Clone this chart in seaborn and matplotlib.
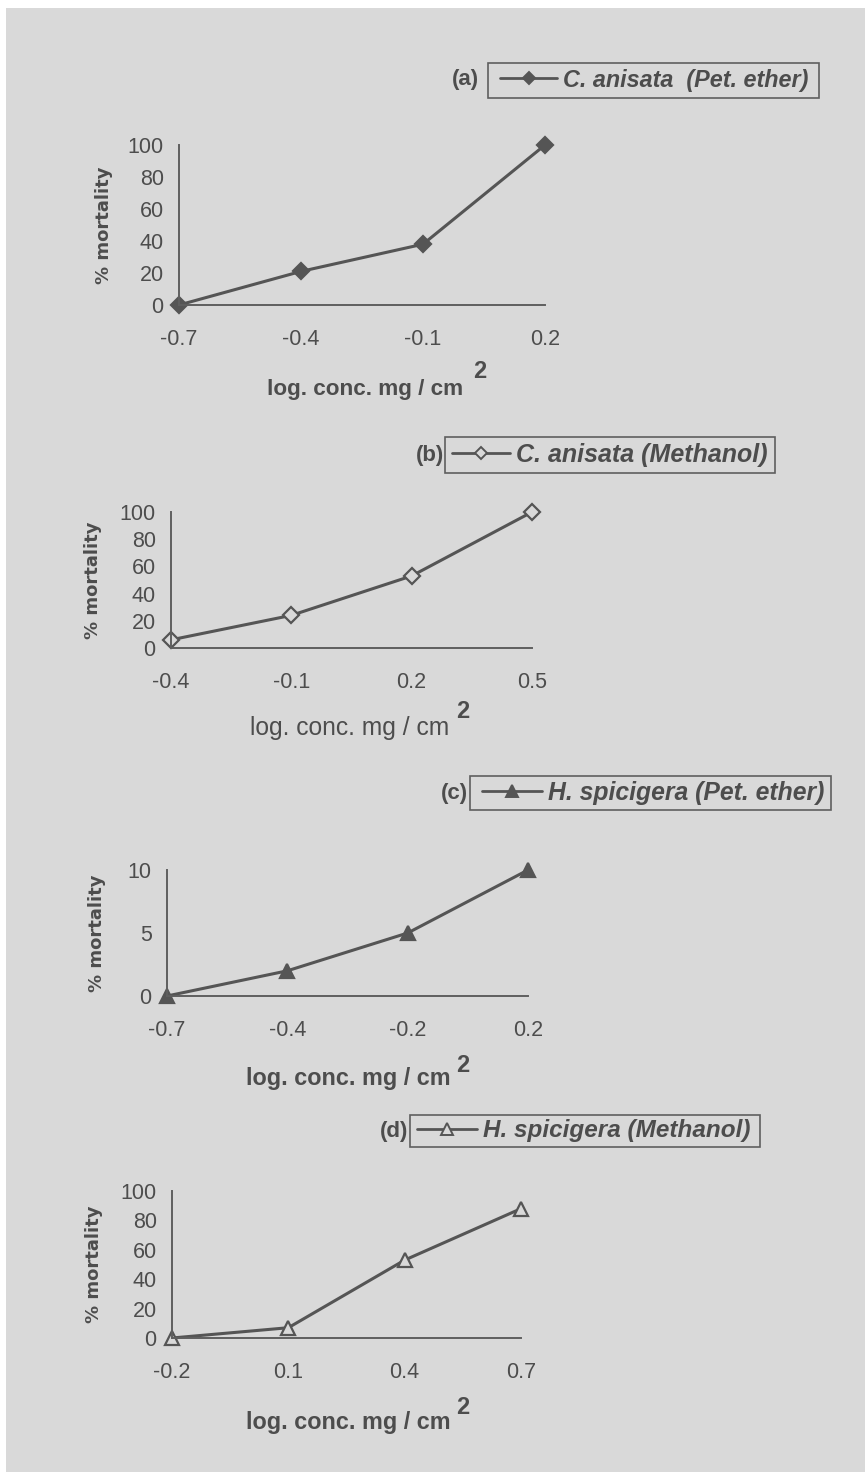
import matplotlib
matplotlib.use("Agg")
import matplotlib.pyplot as plt
from matplotlib import font_manager as fm
import seaborn as sns
import pandas as pd
from matplotlib.patches import Rectangle
from matplotlib.lines import Line2D

sns.set_theme(style="white")


def has_font(name):
    try:
        fm.findfont(fm.FontProperties(family=name), fallback_to_default=False)
        return True
    except Exception:
        return False


NARROW = "Liberation Sans Narrow" if has_font("Liberation Sans Narrow") else "Liberation Sans"
plt.rcParams['font.family'] = [NARROW, 'DejaVu Sans']

# ---- data ----
panel_tags = ["(a)", "(b)", "(c)", "(d)"]
series_names = ["C. anisata  (Pet. ether)", "C. anisata (Methanol)",
                "H. spicigera (Pet. ether)", "H. spicigera (Methanol)"]
x_labels_a = ["-0.7", "-0.4", "-0.1", "0.2"]
x_labels_b = ["-0.4", "-0.1", "0.2", "0.5"]
x_labels_c = ["-0.7", "-0.4", "-0.2", "0.2"]
x_labels_d = ["-0.2", "0.1", "0.4", "0.7"]
mort_a = [0, 21, 38, 100]
mort_b = [6, 24, 53, 100]
mort_c = [0, 2, 5, 10]
mort_d = [0, 7, 53, 88]
yticks_a = [0, 20, 40, 60, 80, 100]
yticks_b = [0, 20, 40, 60, 80, 100]
yticks_c = [0, 5, 10]
yticks_d = [0, 20, 40, 60, 80, 100]
y_title = "% mortality"
x_title = "log. conc. mg / cm"
x_title_sup = "2"

W, H = 865, 1472
fig = plt.figure(figsize=(W / 100, H / 100), dpi=100)
fig.patch.set_facecolor("white")
fig.add_artist(Rectangle((6 / W, 0), 1, 1 - 8 / H, transform=fig.transFigure,
                         facecolor="#d9d9d9", edgecolor="none", zorder=-10))
renderer = fig.canvas.get_renderer()

TXT = "#4d4d4d"
LINE = "#555555"


def fx(px):
    return px / W


def fy(py):
    return 1 - py / H


def fit_width(txt, target):
    w = txt.get_window_extent(renderer).width
    txt.set_fontsize(txt.get_fontsize() * target / w)


# pixel layout per panel
layouts = [
    dict(l=179, r=545, t=145, b=305, ylx=104,
         xl=(365, 389, 196), sup=(473, 372),
         box=(488, 819, 80, 35), hnd=(500, 557), txt_w=245, tag_r=479, bold=True),
    dict(l=171, r=532, t=512, b=648, ylx=93,
         xl=(350, 728, 200), sup=(456, 712),
         box=(445, 775, 455, 36), hnd=(452, 510), txt_w=252, tag_r=444, bold=False),
    dict(l=167, r=528, t=870, b=996, ylx=97,
         xl=(348, 1078, 204), sup=(456, 1066),
         box=(470, 831, 793, 34), hnd=(482, 542), txt_w=276, tag_r=468, bold=True),
    dict(l=172, r=521, t=1191, b=1338, ylx=94,
         xl=(348, 1423, 204), sup=(456, 1407),
         box=(410, 760, 1131, 32), hnd=(417, 477), txt_w=267, tag_r=408, bold=True),
]
xlabels_all = [x_labels_a, x_labels_b, x_labels_c, x_labels_d]
mort_all = [mort_a, mort_b, mort_c, mort_d]
yticks_all = [yticks_a, yticks_b, yticks_c, yticks_d]
markers = ["D", "D", "^", "^"]
mfaces = [LINE, "#d9d9d9", LINE, "#d9d9d9"]
msizes = [8, 8, 10, 10]

for i, L in enumerate(layouts):
    ax = fig.add_axes([fx(L["l"]), fy(L["b"]), (L["r"] - L["l"]) / W, (L["b"] - L["t"]) / H])
    ax.set_facecolor("none")
    df = pd.DataFrame({"pos": range(len(xlabels_all[i])), "y": mort_all[i]})
    sns.lineplot(data=df, x="pos", y="y", ax=ax, color=LINE, lw=2.2,
                 marker=markers[i], markersize=msizes[i], markerfacecolor=mfaces[i],
                 markeredgecolor=LINE, markeredgewidth=1.6, clip_on=False)
    ax.set_xlim(0, len(xlabels_all[i]) - 1)
    yt = yticks_all[i]
    ax.set_ylim(yt[0], yt[-1])
    ax.set_xticks(range(len(xlabels_all[i])))
    ax.set_xticklabels(xlabels_all[i])
    ax.set_yticks(yt)
    for s in ["top", "right"]:
        ax.spines[s].set_visible(False)
    for s in ["left", "bottom"]:
        ax.spines[s].set_color("#5f5f5f")
        ax.spines[s].set_linewidth(1.4)
    ax.tick_params(axis="x", direction="out", length=5, width=1, color="#7a7a7a",
                   pad=12, labelsize=15.5, labelcolor=TXT)
    ax.tick_params(axis="y", direction="out", length=5, width=1, color="#7a7a7a",
                   pad=6, labelsize=15.5, labelcolor=TXT)
    ax.set_xlabel("")
    ax.set_ylabel("")

    # y title
    fig.text(fx(L["ylx"]), fy((L["t"] + L["b"]) / 2), y_title, rotation=90,
             ha="center", va="center", fontsize=13, color=TXT, fontweight="bold",
             family=["DejaVu Sans"])
    # x title with superscript
    xcx, xcy, xw = L["xl"]
    t = fig.text(fx(xcx), fy(xcy), x_title, ha="center", va="center",
                 fontsize=16, color=TXT, fontweight="bold" if L["bold"] else "normal")
    fit_width(t, xw)
    sx, sy = L["sup"]
    fig.text(fx(sx), fy(sy), x_title_sup, ha="left", va="center",
             fontsize=17, color=TXT, fontweight="bold")

    # legend: frame box + legend entry
    bl, br, bcy, bh = L["box"]
    fig.add_artist(Rectangle((fx(bl), fy(bcy + bh / 2)), (br - bl) / W, bh / H,
                             transform=fig.transFigure, facecolor="none",
                             edgecolor="#5f5f5f", lw=1.2))
    fam = [NARROW if i != 1 else "Liberation Sans", "DejaVu Sans"]
    tmp = fig.text(0, 0, series_names[i], fontsize=16, fontweight="bold", style="italic",
                   family=fam)
    fit_width(tmp, L["txt_w"])
    fs = tmp.get_fontsize()
    tmp.remove()
    fs_px = fs * 100 / 72
    h0, h1 = L["hnd"]
    h = Line2D([], [], color=LINE, lw=2, marker=markers[i], markersize=msizes[i] - 2,
               markerfacecolor=mfaces[i], markeredgecolor=LINE, markeredgewidth=1.4)
    leg = ax.legend([h], [series_names[i]], loc="center left",
                    bbox_to_anchor=(fx(h0), fy(bcy)), bbox_transform=fig.transFigure,
                    frameon=False, borderpad=0, borderaxespad=0,
                    handlelength=(h1 - h0) / fs_px, handletextpad=6 / fs_px,
                    prop=dict(size=fs, weight="bold", style="italic", family=fam))
    for tx in leg.get_texts():
        tx.set_color(TXT)
    fig.text(fx(L["tag_r"]), fy(bcy), panel_tags[i], ha="right", va="center",
             fontsize=16, color=TXT, fontweight="bold", family=["Liberation Sans"])

fig.savefig("out.png", dpi=100)
